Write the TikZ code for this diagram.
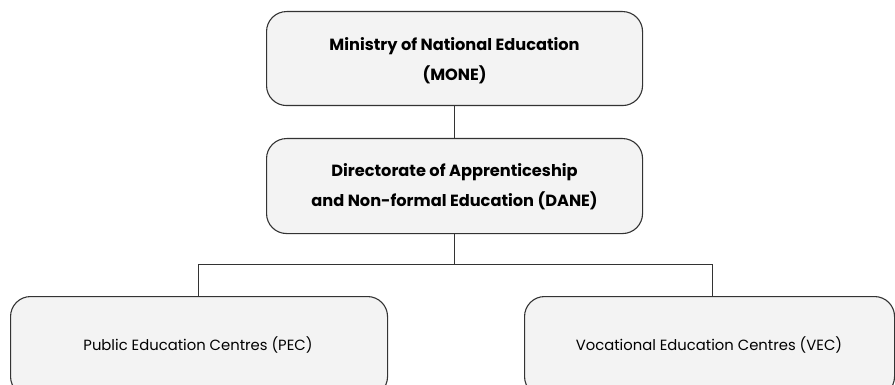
\documentclass[tikz,border=0pt]{standalone}
\usepackage{fontspec}
\usetikzlibrary{calc}
\setmainfont{Poppins}
\definecolor{boxfill}{HTML}{F3F3F3}
\definecolor{boxline}{HTML}{333333}
\tikzset{
  orgbox/.style={draw=boxline, fill=boxfill, line width=1.1pt, rounded corners=20pt, inner sep=0pt, anchor=north west},
  conn/.style={draw=boxline, line width=0.9pt},
  boldtxt/.style={font=\fontsize{16.2}{30}\selectfont\bfseries, align=center},
  plaintxt/.style={font=\fontsize{14.8}{30}\selectfont, align=center}
}
\begin{document}
\begin{tikzpicture}[x=1pt,y=-1pt]
\useasboundingbox (0,0) rectangle (895,385);
\clip (0,0) rectangle (895,385);
\node[orgbox, minimum width=376pt, minimum height=94pt] (mone) at (266,11) {};
\node[boldtxt] (monet) at ($(mone.center)+(0,2)$) {Ministry of National Education\\(MONE)};
\node[orgbox, minimum width=376pt, minimum height=95pt] (dane) at (266,138) {};
\node[boldtxt] (danet) at ($(dane.center)+(0,1)$) {Directorate of Apprenticeship\\and Non-formal Education (DANE)};
\node[orgbox, minimum width=377pt, minimum height=100pt] (pec) at (10,296) {};
\node[plaintxt] (pect) at (198,345) {Public Education Centres (PEC)};
\node[orgbox, minimum width=370pt, minimum height=100pt] (vec) at (524,296) {};
\node[plaintxt] (vect) at (709,345) {Vocational Education Centres (VEC)};
\coordinate (split) at ($(dane.south)+(0,30)$);
\coordinate (vecin) at (712,296);
\draw[conn] (mone.south) -- (dane.north);
\draw[conn] (dane.south) -- (split);
\draw[conn] (split) -| (pec.north -| pect);
\draw[conn] (split) -| (vecin);
\end{tikzpicture}
\end{document}
